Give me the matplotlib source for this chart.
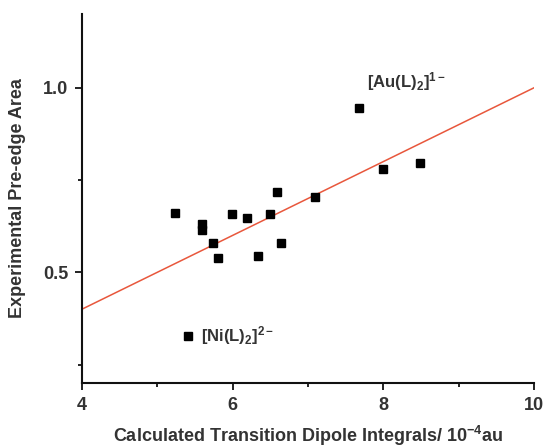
import matplotlib
matplotlib.use('Agg')
import matplotlib.pyplot as plt

# measured points (x: calculated dipole integral /1e-4 au, y: pre-edge area)
calc_tdi = [5.24, 5.59, 5.59, 5.74, 5.80, 5.99, 6.19, 6.34, 6.50, 6.59, 6.64,
            7.09, 7.68, 7.99, 8.49, 5.41]
exp_area = [0.661, 0.630, 0.614, 0.580, 0.540, 0.659, 0.648, 0.544, 0.659, 0.718,
            0.580, 0.705, 0.945, 0.780, 0.796, 0.328]

# linear fit
fit_x = [4, 10]
fit_y = [0.4, 1.0]

txt_col = '#333333'
plt.rcParams['font.family'] = ['Liberation Sans', 'DejaVu Sans']
plt.rcParams['mathtext.default'] = 'regular'

fig = plt.figure(figsize=(5.44, 4.47), dpi=100)
ax = fig.add_axes([0.1507, 0.1432, 0.8309, 0.8255])

ax.plot(fit_x, fit_y, color='#e8573c', lw=1.1, zorder=2)
ax.plot(calc_tdi, exp_area, 's', color='black', ms=5.8, zorder=3)

ax.set_xlim(4, 10)
ax.set_ylim(0.2, 1.2)
ax.set_xticks([4, 6, 8, 10])
ax.set_xticks([5, 7, 9], minor=True)
ax.set_yticks([0.5, 1.0])
ax.set_yticks([0.25, 0.75], minor=True)
ax.set_yticklabels(['0.5', '1.0'])

for s in ['top', 'right']:
    ax.spines[s].set_visible(False)
for s in ['left', 'bottom']:
    ax.spines[s].set_linewidth(1.5)
    ax.spines[s].set_color('#111111')

ax.tick_params(which='major', length=5, width=1.3, labelsize=13, colors='#111111',
               labelcolor=txt_col, pad=5)
ax.tick_params(which='minor', length=3, width=1.3, colors='#111111')
for lab in ax.get_xticklabels() + ax.get_yticklabels():
    lab.set_fontweight('bold')

ax.set_xlabel('Calculated Transition Dipole Integrals/ 10$^{-4}$au', fontsize=13,
              fontweight='bold', color=txt_col, labelpad=7)
ax.set_ylabel('Experimental Pre-edge Area', fontsize=13, fontweight='bold',
              color=txt_col, labelpad=12)

ax.text(7.78, 0.985, '[Au(L)$_2$]$^{1-}$', fontsize=12, fontweight='bold',
        color=txt_col, va='bottom', ha='left')
ax.text(5.58, 0.328, '[Ni(L)$_2$]$^{2-}$', fontsize=12, fontweight='bold',
        color=txt_col, va='center', ha='left')

fig.savefig('out.png', dpi=100)
